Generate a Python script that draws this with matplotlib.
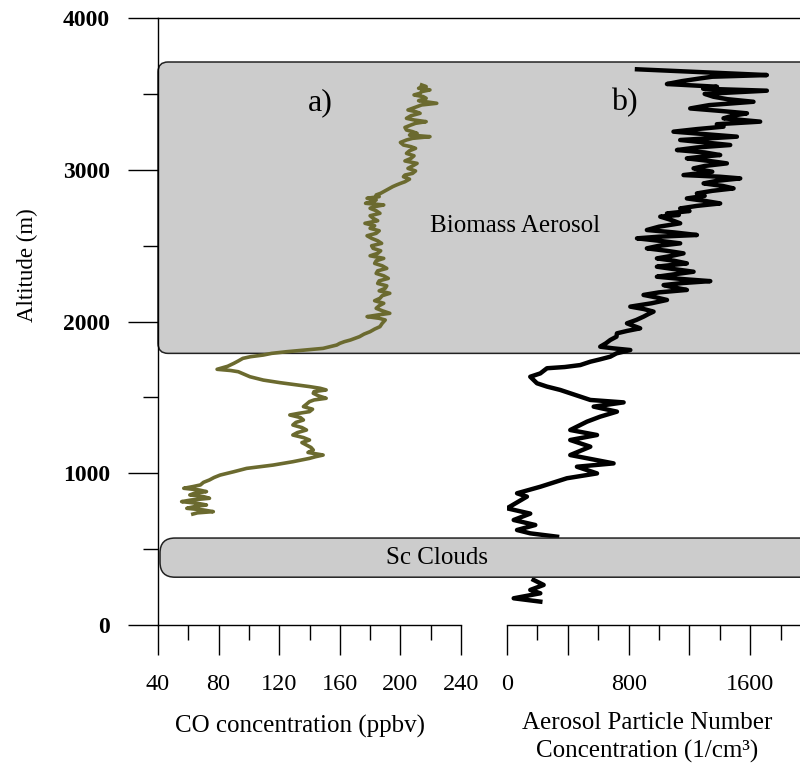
import numpy as np
import matplotlib
matplotlib.use("Agg")
import matplotlib.pyplot as plt
from matplotlib.patches import FancyBboxPatch
from matplotlib.lines import Line2D
from matplotlib.transforms import IdentityTransform
from matplotlib.ticker import MultipleLocator, FixedLocator

plt.rcParams['font.family'] = ['Liberation Serif', 'DejaVu Serif']

# ---------------- data ----------------
co_alt = [3559, 3548, 3537, 3526, 3515, 3504, 3493, 3482, 3471, 3455, 3438, 3427, 3416, 3405,
          3394, 3383, 3372, 3356, 3339, 3328, 3317, 3306, 3295, 3279, 3262, 3251, 3240, 3229,
          3218, 3207, 3196, 3180, 3163, 3152, 3141, 3125, 3108, 3092, 3075, 3058, 3042, 3025,
          3009, 2992, 2976, 2965, 2954, 2938, 2921, 2910, 2900, 2889, 2878, 2867, 2856, 2845,
          2834, 2823, 2812, 2801, 2790, 2779, 2768, 2757, 2746, 2730, 2713, 2697, 2680, 2664,
          2647, 2631, 2614, 2598, 2581, 2565, 2548, 2532, 2515, 2499, 2482, 2466, 2449, 2433,
          2416, 2400, 2383, 2367, 2350, 2334, 2317, 2301, 2284, 2268, 2251, 2235, 2219, 2202,
          2186, 2170, 2153, 2137, 2120, 2104, 2087, 2071, 2054, 2043, 2032, 2021, 2010, 1988,
          1966, 1950, 1933, 1917, 1900, 1889, 1878, 1867, 1856, 1845, 1823, 1801, 1790, 1779,
          1768, 1757, 1740, 1724, 1705, 1685, 1677, 1669, 1652, 1636, 1614, 1597, 1582, 1571,
          1560, 1549, 1538, 1527, 1510, 1494, 1483, 1472, 1455, 1439, 1422, 1406, 1395, 1384,
          1367, 1351, 1335, 1318, 1301, 1285, 1268, 1252, 1235, 1219, 1202, 1186, 1170, 1153,
          1137, 1120, 1109, 1098, 1076, 1054, 1032, 1010, 988, 972, 956, 940, 923, 912,
          901, 890, 879, 868, 857, 846, 835, 824, 813, 802, 791, 780, 769, 758,
          747, 739, 731]
co_ppbv = [214, 217, 212, 219.5, 214, 213, 209, 215, 217, 212, 224, 214, 211, 208,
           205, 210, 213, 207, 204, 209, 217, 210, 207, 203, 204, 208, 211, 206,
           219.5, 208, 204, 200, 202, 207, 210, 206, 204, 209, 207, 203, 211, 208,
           205, 210, 208, 203, 202, 206, 203, 200, 197.5, 195, 193, 191, 189, 187,
           184, 186, 178, 184, 182, 177, 189, 183, 180, 184, 186.5, 180, 182, 185,
           176.6, 183, 180, 186, 184, 178, 181, 185, 187.6, 181, 182, 187, 185, 180,
           189, 184, 183, 188, 191, 185, 184, 189, 192, 186, 185, 191, 190, 186,
           193, 188, 186.5, 183, 189, 186, 184, 188, 193, 185, 178, 186, 190, 188,
           186.5, 183, 180, 176, 173, 170, 167, 163, 160, 158, 149, 125, 115, 109.5,
           101, 96, 93, 90, 86, 79, 88, 93, 97, 100.7, 109.5, 120.5, 131.5, 140,
           147, 151, 143, 142.5, 146, 151, 143, 140, 138, 136, 142, 140, 133, 127,
           134, 136, 131, 129, 135, 138, 132, 129, 136, 140, 135, 138, 141, 142.5,
           139, 149, 144, 140, 129, 116, 98.5, 90, 81, 77, 74, 70, 68, 63,
           57, 67, 72, 64, 61, 70, 74, 62, 55.6, 66, 72, 64, 59, 70,
           76.5, 66, 63]

aer_alt = [3662, 3624, 3613, 3602, 3584, 3565, 3547, 3534, 3521, 3500, 3481, 3465, 3448, 3426,
           3404, 3388, 3372, 3355, 3339, 3317, 3300, 3284, 3268, 3251, 3235, 3218, 3207, 3196,
           3180, 3163, 3147, 3130, 3114, 3097, 3086, 3075, 3058, 3042, 3025, 3009, 2987, 2965,
           2954, 2943, 2927, 2910, 2893, 2877, 2861, 2844, 2828, 2811, 2795, 2778, 2762, 2745,
           2728, 2712, 2702, 2691, 2669, 2647, 2625, 2603, 2587, 2570, 2559, 2548, 2532, 2515,
           2499, 2482, 2466, 2449, 2432, 2416, 2400, 2383, 2372, 2361, 2345, 2328, 2311, 2295,
           2280, 2266, 2253, 2240, 2224, 2208, 2192, 2175, 2159, 2142, 2120, 2098, 2082, 2065,
           2049, 2032, 2010, 1988, 1972, 1955, 1938, 1922, 1900, 1878, 1856, 1834, 1823, 1812,
           1790, 1768, 1750, 1735, 1713, 1700, 1692, 1658, 1636, 1593, 1571, 1549, 1505, 1483,
           1467, 1439, 1406, 1373, 1340, 1285, 1252, 1219, 1175, 1120, 1065, 1043, 999, 967,
           911, 868, 846, 769, 734, 692, 659, 626, 604, 582]
aer_conc = [855, 1709, 1350, 1271, 1150, 1052, 1381, 1290, 1709, 1300, 1358, 1450, 1621, 1330,
            1205, 1400, 1578, 1480, 1424, 1665, 1380, 1424, 1250, 1095, 1300, 1512, 1320, 1139,
            1300, 1468, 1250, 1118, 1300, 1402, 1280, 1183, 1330, 1446, 1300, 1227, 1350, 1161,
            1400, 1534, 1380, 1293, 1420, 1490, 1350, 1249, 1300, 1183, 1300, 1402, 1250, 1139,
            1200, 1052, 1130, 1008, 1080, 1139, 1000, 920, 1100, 1249, 1000, 855, 1000, 1139,
            1000, 920, 1050, 1161, 1080, 986, 1100, 1183, 1080, 986, 1100, 1227, 1100, 986,
            1150, 1337, 1150, 1030, 1100, 1183, 1000, 898, 980, 1052, 950, 811, 900, 964,
            930, 898, 850, 789, 830, 876, 790, 723, 720, 679, 650, 613, 700, 811,
            720, 679, 610, 548, 482, 380, 263, 219, 153, 197, 263, 350, 482, 548,
            767, 570, 723, 613, 526, 416, 592, 416, 548, 416, 701, 460, 592, 394,
            219, 66, 131, 0, 153, 44, 186, 66, 153, 329]

aer_alt_low = [297, 264, 231, 209, 176, 154]
aer_conc_low = [175, 241, 153, 219, 44, 219]

biomass_layer = (1790, 3710)
cloud_layer = (315, 573)

co_ticks = [40, 80, 120, 160, 200, 240]
aer_ticks = [0, 400, 800, 1200, 1600]
aer_ticklabels = ['0', '', '800', '', '1600']
alt_ticks = [0, 1000, 2000, 3000, 4000]

# ---------------- layout ----------------
W, H = 800, 765
fig = plt.figure(figsize=(W / 100, H / 100), dpi=100)


def fx(px):
    return px / W


def fy(py):
    return 1 - py / H


ax1 = fig.add_axes([fx(158), fy(625), fx(461) - fx(158), fy(18) - fy(625)])
ax2 = fig.add_axes([fx(507), fy(625), fx(800) - fx(507), fy(18) - fy(625)])

for ax in (ax1, ax2):
    ax.patch.set_visible(False)
    ax.set_ylim(0, 4000)
    ax.spines['top'].set_visible(False)
    ax.spines['right'].set_visible(False)
    for s in ax.spines.values():
        s.set_linewidth(1.0)
    ax.tick_params(which='major', length=21.6, width=1.0, direction='out')
    ax.tick_params(which='minor', length=10.8, width=1.0, direction='out')

ax1.set_xlim(40, 240)
ax2.set_xlim(0, 1927)

# left axis
ax1.set_yticks(alt_ticks)
ax1.yaxis.set_minor_locator(MultipleLocator(500))
ax1.set_yticklabels([str(t) for t in alt_ticks], fontsize=17, fontweight='bold')
ax1.tick_params(axis='y', pad=13)
ax1.set_xticks(co_ticks)
ax1.xaxis.set_minor_locator(MultipleLocator(20))
ax1.set_xticklabels([str(t) for t in co_ticks], fontsize=17.5)
ax1.tick_params(axis='x', pad=14)

# right axis
ax2.spines['left'].set_visible(False)
ax2.tick_params(axis='y', which='both', left=False, labelleft=False)
ax2.set_xticks(aer_ticks)
ax2.xaxis.set_minor_locator(FixedLocator([200, 600, 1000, 1400, 1800]))
ax2.set_xticklabels(aer_ticklabels, fontsize=17.5)
ax2.tick_params(axis='x', pad=14)

# profiles
ax1.plot(co_ppbv, co_alt, color='#6b6a2f', lw=2.6, zorder=3)
ax2.plot(aer_conc, aer_alt, color='black', lw=3.2, zorder=3)
ax2.plot(aer_conc_low, aer_alt_low, color='black', lw=3.2, zorder=3)


# shaded layers (display pixel coordinates, y from altitude data)
def ypix(alt):
    return ax1.transData.transform((40, alt))[1]


x_left_pix = ax1.transData.transform((40, 0))[0]
b0, b1 = ypix(biomass_layer[0]), ypix(biomass_layer[1])
biomass = FancyBboxPatch((x_left_pix, b0), 700, b1 - b0,
                         boxstyle='round,pad=0,rounding_size=10',
                         facecolor='#cccccc', edgecolor='#222222', lw=1.1,
                         transform=IdentityTransform(), zorder=-1)
fig.add_artist(biomass)

c0, c1 = ypix(cloud_layer[0]), ypix(cloud_layer[1])
cloud = FancyBboxPatch((x_left_pix + 2, c0), 700, c1 - c0,
                       boxstyle='round,pad=0,rounding_size=15',
                       facecolor='#cccccc', edgecolor='#222222', lw=1.1,
                       transform=IdentityTransform(), zorder=5)
fig.add_artist(cloud)

# top frame line
ytop = ypix(4000)
fig.add_artist(Line2D([x_left_pix, W], [ytop, ytop], color='black', lw=1.0,
                      transform=IdentityTransform(), zorder=2))

# texts
fig.text(fx(320), fy(103), 'a)', fontsize=23, ha='center', va='center', zorder=6)
fig.text(fx(624), fy(103), 'b)', fontsize=23, ha='center', va='center', zorder=6)
fig.text(fx(515), fy(226), 'Biomass Aerosol', fontsize=18, ha='center', va='center', zorder=6)
fig.text(fx(437), fy(558), 'Sc Clouds', fontsize=18, ha='center', va='center', zorder=6)
fig.text(fx(27), fy(265), 'Altitude (m)', fontsize=16.5, rotation=90, ha='center', va='center')
fig.text(fx(300), fy(726), 'CO concentration (ppbv)', fontsize=18, ha='center', va='center')
fig.text(fx(647), fy(723), 'Aerosol Particle Number', fontsize=18, ha='center', va='center')
fig.text(fx(647), fy(751), 'Concentration (1/cm³)', fontsize=18, ha='center', va='center')

fig.savefig('out.png', dpi=100)
